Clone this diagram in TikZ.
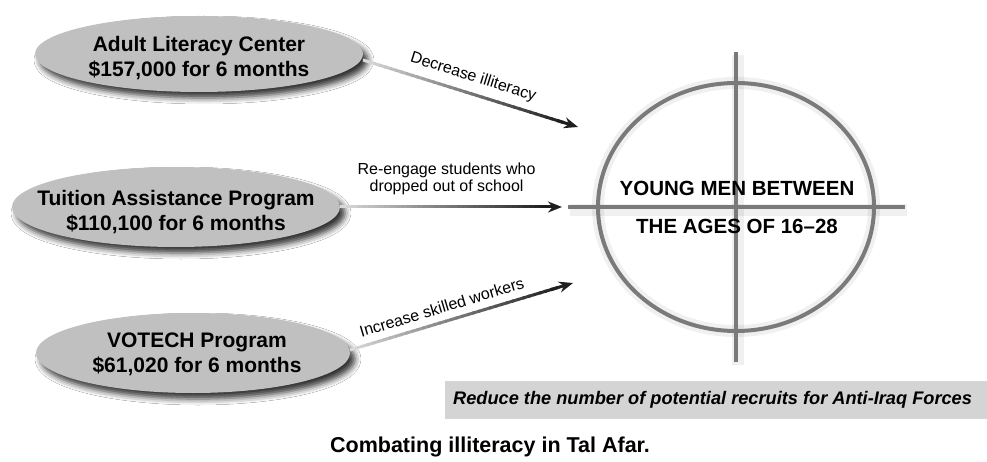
\documentclass[tikz,border=0pt]{standalone}
\usepackage{fontspec}
\setmainfont{Liberation Sans}
\usetikzlibrary{shadows.blur,arrows.meta,calc}
\definecolor{ellgray}{RGB}{192,192,192}
\definecolor{crossgray}{RGB}{122,122,122}
\definecolor{boxgray}{RGB}{212,212,213}
\newcommand\gradarrow[2]{%
  \foreach \i in {0,...,36}{%
    \pgfmathsetmacro\gpa{\i/40}%
    \pgfmathsetmacro\gpb{(\i+1.3)/40}%
    \pgfmathtruncatemacro\gpc{15+72*\i/36}%
    \draw[line width=3pt, black!\gpc] ($(#1)!\gpa!(#2)$) -- ($(#1)!\gpb!(#2)$);
  }%
  \draw[line width=3pt, black!88, -{Stealth[length=14pt,width=11pt]}] ($(#1)!0.9!(#2)$) -- (#2);
}
\tikzset{
  ellshape/.style={fill=ellgray, blur shadow={shadow xshift=5pt, shadow yshift=-6pt, shadow blur radius=6pt, shadow opacity=80}},
  elltext/.style={font=\fontsize{21}{25}\selectfont\bfseries, align=center, inner sep=0pt},
  arrlabel/.style={font=\fontsize{16}{17}\selectfont, align=center, inner sep=0pt},
  cross/.style={crossgray, line width=4pt},
  crossshadow/.style={black, opacity=0.06, line width=12pt},
}
\begin{document}
\begin{tikzpicture}[x=1pt,y=-1pt]
\useasboundingbox (0,0) rectangle (987,462);
\fill[white] (0,0) rectangle (987,462);

% ellipses
\path[ellshape] (199,54) ellipse [x radius=164pt, y radius=38pt];
\path[ellshape] (176,207) ellipse [x radius=164pt, y radius=40pt];
\path[ellshape] (193,353) ellipse [x radius=157pt, y radius=40pt];

\node[elltext] (e1) at (199,58) {Adult Literacy Center\\\$157,000 for 6 months};
\node[elltext] (e2) at (176,212) {Tuition Assistance Program\\\$110,100 for 6 months};
\node[elltext] (e3) at (197,354) {VOTECH Program\\\$61,020 for 6 months};

% crosshair
\coordinate (cc) at (736,207);
\begin{scope}[shift={(2,3)}]
  \draw[crossshadow] (cc) ellipse [x radius=138pt, y radius=124pt];
  \draw[crossshadow] (736,52) -- (736,362);
  \draw[crossshadow] (568,207) -- (905,207);
\end{scope}
\draw[cross] (cc) ellipse [x radius=138pt, y radius=124pt];
\draw[cross] (736,52) -- (736,362);
\draw[cross] (568,207) -- (905,207);
\node[font=\fontsize{20.5}{38}\selectfont\bfseries, align=center, inner sep=0pt] (tg) at (737,207) {YOUNG MEN BETWEEN\\THE AGES OF 16–28};

% connectors
\coordinate (s1) at (363,60);
\coordinate (t1) at (578,127);
\coordinate (s2) at (340,207);
\coordinate (t2) at (562,207);
\coordinate (s3) at (350,350);
\coordinate (t3) at (573,283);

\gradarrow{s1}{t1}
\gradarrow{s2}{t2}
\gradarrow{s3}{t3}

\path (s1) -- (t1) node[arrlabel, pos=0.49, sloped, above=8.5pt] (l1) {Decrease illiteracy};
\path (s2) -- (t2) node[arrlabel, pos=0.48, above=11.5pt] (l2) {Re-engage students who\\dropped out of school};
\path (s3) -- (t3) node[arrlabel, pos=0.43, sloped, above=8.5pt] (l3) {Increase skilled workers};

% goal box
\node[fill=boxgray, anchor=west, minimum height=38pt, minimum width=542pt, inner xsep=8pt, inner ysep=0pt, font=\fontsize{18.2}{20}\selectfont\bfseries\itshape] (goal) at (445,400) {\makebox[526pt][l]{Reduce the number of potential recruits for Anti-Iraq Forces}};

% caption
\node[font=\fontsize{21.5}{24}\selectfont\bfseries, inner sep=0pt] (cap) at (490,447) {Combating illiteracy in Tal Afar.};
\end{tikzpicture}
\end{document}
